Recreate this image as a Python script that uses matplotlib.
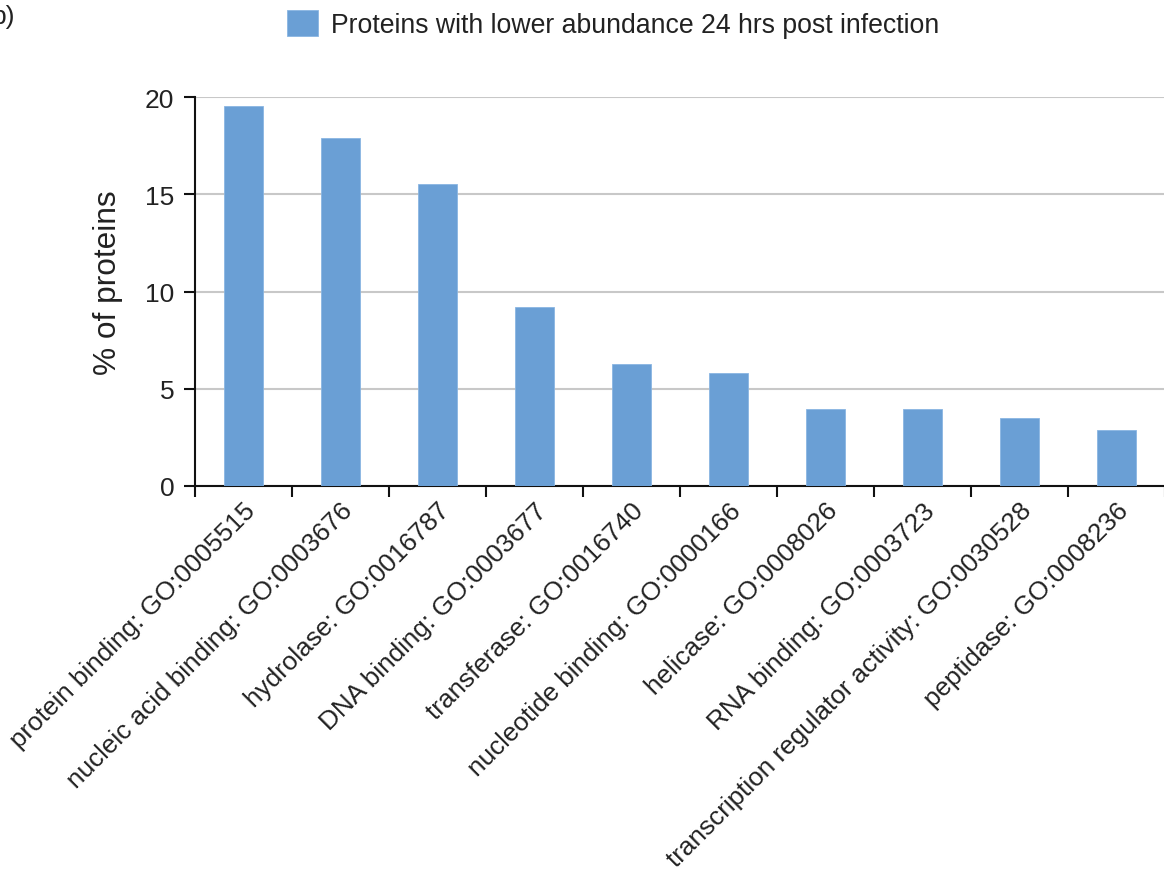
import matplotlib
matplotlib.use("Agg")
import matplotlib.pyplot as plt
from matplotlib.patches import Patch
from matplotlib.ticker import FixedLocator
import numpy as np

plt.rcParams['font.family'] = ['Liberation Sans', 'DejaVu Sans']

categories = [
    "protein binding: GO:0005515",
    "nucleic acid binding: GO:0003676",
    "hydrolase: GO:0016787",
    "DNA binding: GO:0003677",
    "transferase: GO:0016740",
    "nucleotide binding: GO:0000166",
    "helicase: GO:0008026",
    "RNA binding: GO:0003723",
    "transcription regulator activity: GO:0030528",
    "peptidase: GO:0008236",
]
percent_proteins = [19.57, 17.89, 15.53, 9.20, 6.25, 5.82, 3.93, 3.93, 3.50, 2.87]
series_label = "Proteins with lower abundance 24 hrs post infection"
yticks = [0, 5, 10, 15, 20]

bar_color = "#6a9fd5"
text_color = "#222222"

W, H = 1164, 878
fig = plt.figure(figsize=(W / 100, H / 100), dpi=100)
ax = fig.add_axes([195 / W, (H - 486.7) / H, 970 / W, 388.4 / H])

x = np.arange(len(categories))
ax.bar(x, percent_proteins, width=0.41, color=bar_color,
       edgecolor="#8ab6e2", linewidth=0.6, zorder=3)

ax.set_xlim(-0.5, len(categories) - 0.5)
ax.set_ylim(0, 20)
ax.set_yticks(yticks)
ax.set_yticklabels([str(t) for t in yticks])

ax.yaxis.grid(True, color="#c8c8c8", linewidth=1.5, zorder=0)
ax.set_axisbelow(True)

for side in ("top", "right"):
    ax.spines[side].set_visible(False)
for side in ("left", "bottom"):
    ax.spines[side].set_color("#111111")
    ax.spines[side].set_linewidth(1.5)

# category labels at bar centres, tick marks at category boundaries
ax.set_xticks(x)
ax.set_xticklabels(categories, rotation=45, ha="right", va="top",
                   rotation_mode="anchor", fontsize=18.8, color=text_color)
ax.tick_params(axis="x", which="major", length=0, pad=9)
ax.xaxis.set_minor_locator(FixedLocator(np.arange(-0.5, len(categories), 1.0)))
ax.tick_params(axis="x", which="minor", length=8, width=1.5, color="#111111",
               direction="out")
ax.tick_params(axis="y", which="major", length=8, width=1.5, color="#111111",
               pad=7, labelsize=19, labelcolor=text_color)

ax.set_ylabel("% of proteins", fontsize=22.8, color=text_color)
ax.yaxis.set_label_coords(-0.074, 0.525)

handle = Patch(facecolor=bar_color, edgecolor="#8ab6e2", linewidth=0.6)
fig.legend([handle], [series_label], loc="center",
           bbox_to_anchor=(613 / W, 1 - 25 / H), frameon=False,
           fontsize=19.2, handlelength=1.15, handleheight=1.15,
           handletextpad=0.5, labelcolor=text_color)

fig.text(-9 / W, 1 - 5 / H, "b)", ha="left", va="top", fontsize=19,
         color=text_color)

fig.savefig("out.png", dpi=100)
